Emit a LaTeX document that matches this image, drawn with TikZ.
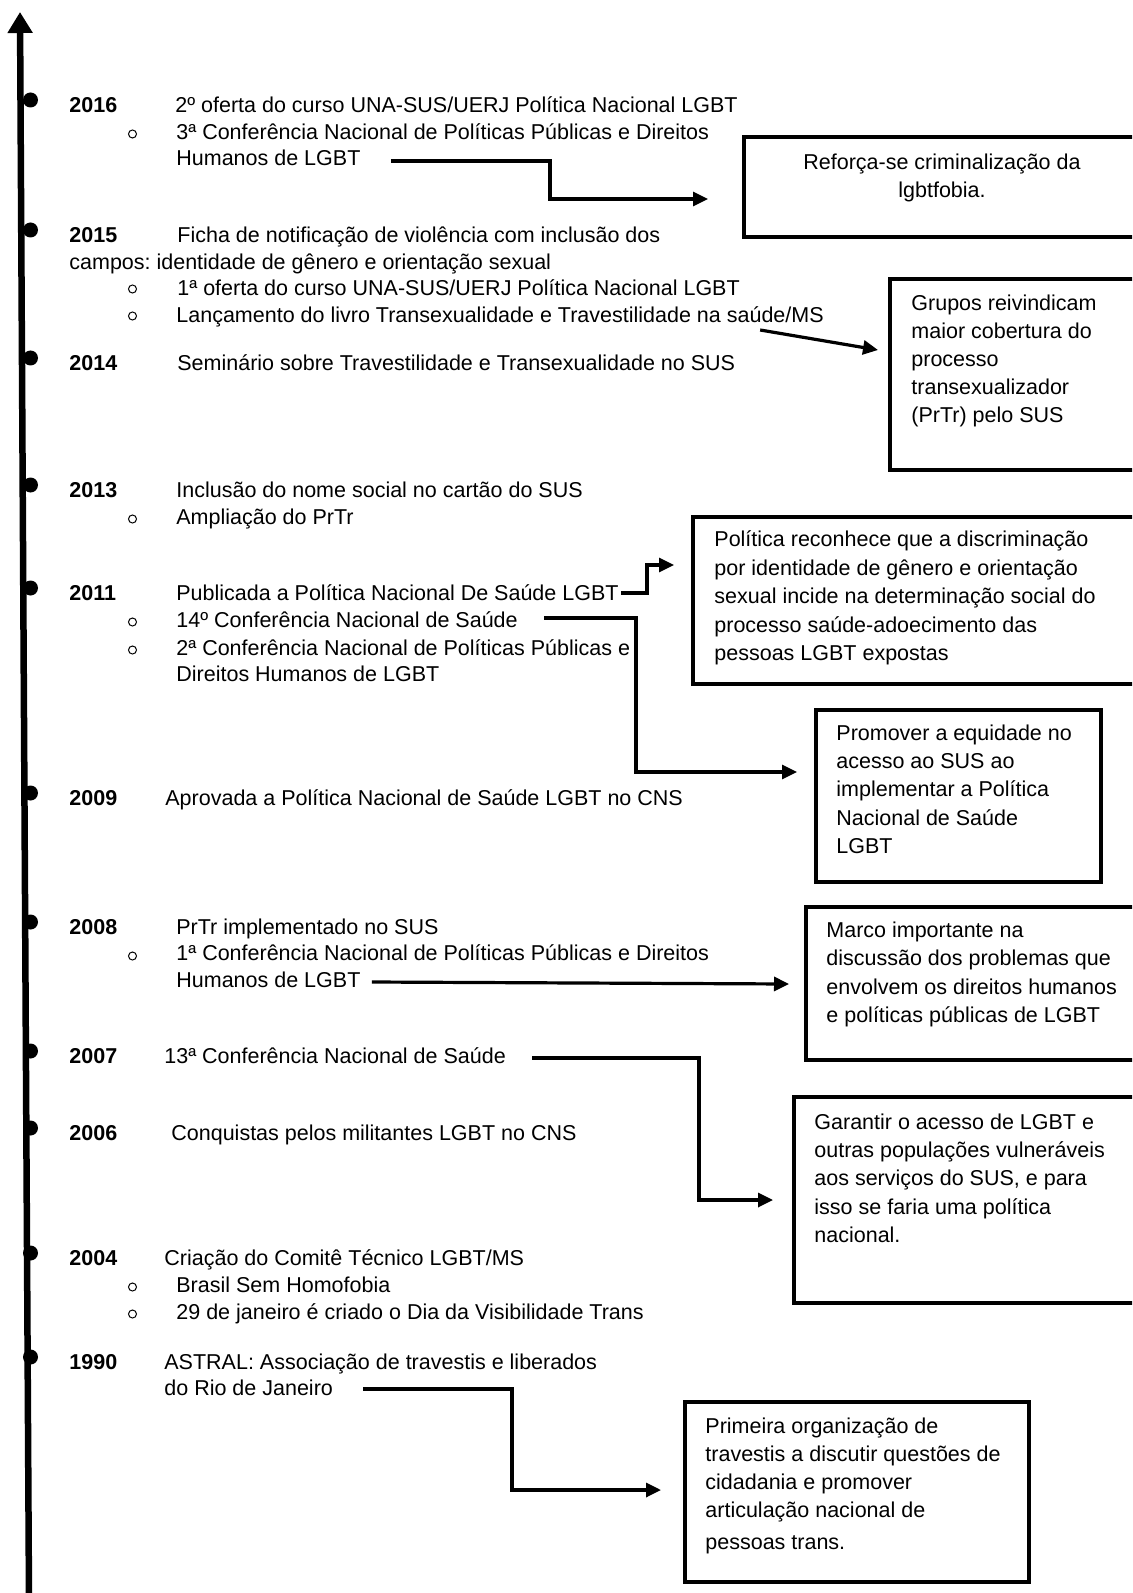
\documentclass[tikz,border=0pt]{standalone}
\usepackage{fontspec}
\setmainfont{Liberation Sans}
\frenchspacing
\usetikzlibrary{arrows.meta,calc}
\tikzset{
  yearlbl/.style={font=\fontsize{10.75pt}{13.5pt}\selectfont\bfseries,
                  anchor=base west,inner sep=0pt},
  evt/.style={anchor=base west,inner sep=0pt},
  note/.style={draw,line width=2pt,anchor=north west,inner sep=0pt},
  notetxt/.style={anchor=base west,align=left,inner sep=0pt,
                  font=\fontsize{10.75pt}{14.15pt}\selectfont},
  link/.style={line width=1.6pt,-{Triangle[length=7.5pt,width=7pt]}},
  bulletmark/.style={line width=0.5pt},
}

\begin{document}
\begin{tikzpicture}[x=0.5pt,y=-0.5pt,font=\fontsize{10.75pt}{13.5pt}\selectfont]
  \useasboundingbox (0,0) rectangle (1132,1593);
  \fill[white] (0,0) rectangle (1132,1593);
  \clip (0,0) rectangle (1132,1593);

  % Time axis, pointing up
  \draw[line width=3.25pt,-{Triangle[length=10.5pt,width=12pt]}] (29,1600) -- (20,12);

  % Years with their dots
  \foreach \yr/\yy in {2016/112.5,2015/242.5,2014/370.5,2013/497.5,2011/600.5,
                       2009/805.5,2008/934.5,2007/1063.5,2006/1140.5,2004/1265.5,
                       1990/1369.5}{
    \fill (30.5,\yy-12.5) circle[radius=7.5];
    \node[yearlbl] (y\yr) at (69,\yy) {\yr};
  }

  % Sub-item bullets
  \foreach \by in {134,289,316,519,622,650,956,1287,1314}
    \draw[bulletmark] (132.5,\by) circle[radius=4];

  % Events
  \node[evt] (t16a) at (175,112.5) {2º oferta do curso UNA-SUS/UERJ Política Nacional LGBT};
  \node[evt] (t16b) at (176,139.5) {3ª Conferência Nacional de Políticas Públicas e Direitos};
  \node[evt] (t16c) at (176,165.5) {Humanos de LGBT};
  \node[evt] (t15a) at (177,242.5) {Ficha de notificação de violência com inclusão dos};
  \node[evt] (t15b) at (69,269.5) {campos: identidade de gênero e orientação sexual};
  \node[evt] (t15c) at (177,295.5) {1ª oferta do curso UNA-SUS/UERJ Política Nacional LGBT};
  \node[evt] (t15d) at (176,322.5) {Lançamento do livro Transexualidade e Travestilidade na saúde/MS};
  \node[evt] (t14) at (177,370.5) {Seminário sobre Travestilidade e Transexualidade no SUS};
  \node[evt] (t13a) at (176,497.5) {Inclusão do nome social no cartão do SUS};
  \node[evt] (t13b) at (176,524.5) {Ampliação do PrTr};
  \node[evt] (t11a) at (176,600.5) {Publicada a Política Nacional De Saúde LGBT};
  \node[evt] (t11b) at (176,627.5) {14º Conferência Nacional de Saúde};
  \node[evt] (t11c) at (176,655.5) {2ª Conferência Nacional de Políticas Públicas e};
  \node[evt] (t11d) at (176,681.5) {Direitos Humanos de LGBT};
  \node[evt] (t09) at (165,805.5) {Aprovada a Política Nacional de Saúde LGBT no CNS};
  \node[evt] (t08a) at (176,934.5) {PrTr implementado no SUS};
  \node[evt] (t08b) at (176,960.5) {1ª Conferência Nacional de Políticas Públicas e Direitos};
  \node[evt] (t08c) at (176,987.5) {Humanos de LGBT};
  \node[evt] (t07) at (164,1063.5) {13ª Conferência Nacional de Saúde};
  \node[evt] (t06) at (171,1140.5) {Conquistas pelos militantes LGBT no CNS};
  \node[evt] (t04a) at (164,1265.5) {Criação do Comitê Técnico LGBT/MS};
  \node[evt] (t04b) at (176,1292.5) {Brasil Sem Homofobia};
  \node[evt] (t04c) at (176,1319.5) {29 de janeiro é criado o Dia da Visibilidade Trans};
  \node[evt] (t90a) at (164,1369.5) {ASTRAL: Associação de travestis e liberados};
  \node[evt] (t90b) at (164,1395.5) {do Rio de Janeiro};

  % Comment boxes
  \node[note,minimum width=209pt,minimum height=50pt] (b16) at (742,135) {};
  \node[note,minimum width=136pt,minimum height=95.5pt] (b15) at (888,277) {};
  \node[note,minimum width=234.5pt,minimum height=83.5pt] (b11a) at (691,515) {};
  \node[note,minimum width=142.5pt,minimum height=86pt] (b11b) at (814,708) {};
  \node[note,minimum width=178pt,minimum height=76.5pt] (b08) at (804,905) {};
  \node[note,minimum width=184pt,minimum height=103pt] (b07) at (792,1095) {};
  \node[note,minimum width=172pt,minimum height=90pt] (b90) at (683,1400) {};

  % (base of a multi-line node = baseline of its last line)
  \node[notetxt,anchor=base,align=center] (n16) at (942,197.5)
    {Reforça-se criminalização da\\lgbtfobia.};
  \node[notetxt,font=\fontsize{10.75pt}{14pt}\selectfont] (n15) at (911,422.5)
    {Grupos reivindicam\\maior cobertura do\\processo\\transexualizador\\(PrTr) pelo SUS};
  \node[notetxt,font=\fontsize{10.75pt}{14.25pt}\selectfont] (n11a) at (714,660.5)
    {Política reconhece que a discriminação\\por identidade de gênero e orientação\\
     sexual incide na determinação social do\\processo saúde-adoecimento das\\
     pessoas LGBT expostas};
  \node[notetxt] (n11b) at (836,853.5)
    {Promover a equidade no\\acesso ao SUS ao\\implementar a Política\\Nacional de Saúde\\LGBT};
  \node[notetxt] (n08) at (826,1022.5)
    {Marco importante na\\discussão dos problemas que\\envolvem os direitos humanos\\
     e políticas públicas de LGBT};
  \node[notetxt] (n07) at (814,1242.5)
    {Garantir o acesso de LGBT e\\outras populações vulneráveis\\aos serviços do SUS, e para\\
     isso se faria uma política\\nacional.};
  \node[notetxt,font=\fontsize{10.75pt}{14pt}\selectfont] (n90) at (705,1549.5)
    {Primeira organização de\\travestis a discutir questões de\\cidadania e promover\\
     articulação nacional de\\[2pt]pessoas trans.};

  % Connectors
  \draw[link] ($(t16c.base east)+(30,-4.5)$) -| ($(b16.west)+(-192,12)$)
    -- ($(b16.west)+(-34,12)$);
  \draw[link] ($(t15d.base east)+(-64,7.5)$) -- ($(b15.west)+(-10,-24.5)$);
  \draw[link] ($(t11a.base east)+(2,-7.5)$) -| ($(b11a.west)+(-44,-35.5)$)
    -- ($(b11a.west)+(-17,-35.5)$);
  \draw[link] ($(t11b.base east)+(26,-9.5)$) -| ($(b11b.west)+(-178,-24)$)
    -- ($(b11b.west)+(-17,-24)$);
  \draw[link] ($(t08c.base east)+(11,-5.5)$) -- ($(b08.west)+(-15,0.5)$);
  \draw[link] ($(t07.base east)+(26,-5.5)$) -| ($(b07.west)+(-93,0)$)
    -- ($(b07.west)+(-19,0)$);
  \draw[link] ($(t90b.base east)+(30,-6.5)$) -| ($(b90.west)+(-171,-2)$)
    -- ($(b90.west)+(-22,-2)$);
\end{tikzpicture}
\end{document}
